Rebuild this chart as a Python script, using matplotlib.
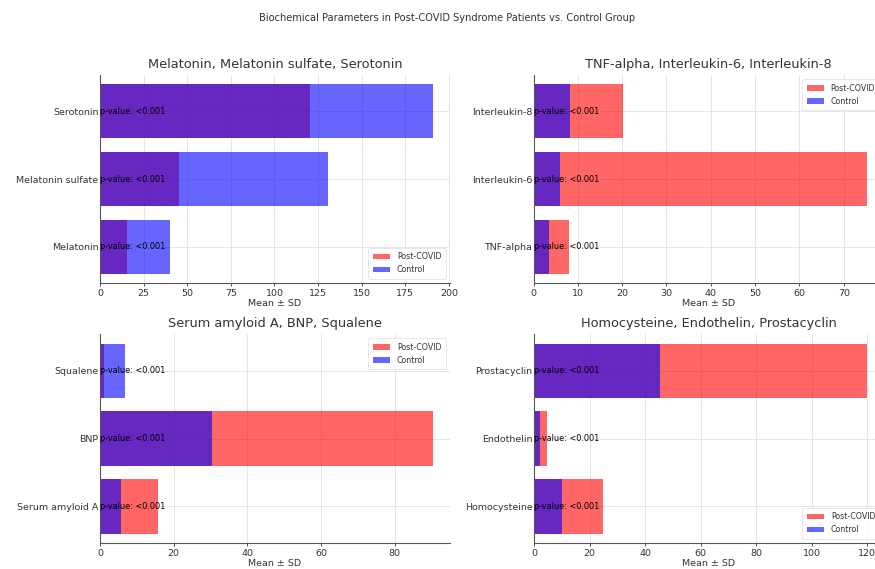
import numpy as np
import matplotlib
matplotlib.use("Agg")
import matplotlib.pyplot as plt

# ---------- data (means read per marker) ----------
panel_titles = [
    "Melatonin, Melatonin sulfate, Serotonin",
    "TNF-alpha, Interleukin-6, Interleukin-8",
    "Serum amyloid A, BNP, Squalene",
    "Homocysteine, Endothelin, Prostacyclin",
]
markers = [
    ["Melatonin", "Melatonin sulfate", "Serotonin"],
    ["TNF-alpha", "Interleukin-6", "Interleukin-8"],
    ["Serum amyloid A", "BNP", "Squalene"],
    ["Homocysteine", "Endothelin", "Prostacyclin"],
]
post_covid = [
    [15.3, 45.4, 120.6],
    [8.1, 75.2, 20.2],
    [15.8, 90.5, 1.1],
    [24.9, 4.7, 120.1],
]
control = [
    [40.2, 130.8, 191.1],
    [3.4, 6.0, 8.3],
    [5.6, 30.3, 6.8],
    [10.2, 2.0, 45.4],
]
p_values = [
    ["<0.001", "<0.001", "<0.001"],
    ["<0.001", "<0.001", "<0.001"],
    ["<0.001", "<0.001", "<0.001"],
    ["<0.001", "<0.001", "<0.001"],
]
legend_locs = ["lower right", "upper right", "upper right", "lower right"]

plt.rcParams["font.family"] = ["DejaVu Sans"]
plt.rcParams["text.color"] = "#333333"
plt.rcParams["axes.labelcolor"] = "#333333"
plt.rcParams["xtick.color"] = "#333333"
plt.rcParams["ytick.color"] = "#333333"

W, H = 875, 569
fig = plt.figure(figsize=(W / 100, H / 100), dpi=100)

# axes boxes in pixels: left, top, width, height (right column runs past the edge)
boxes = [(100, 75, 350, 208), (533.5, 75, 350, 208),
         (100, 334, 350, 209), (534, 334, 350, 209)]

for k, (l, t, w, h) in enumerate(boxes):
    ax = fig.add_axes([l / W, 1 - (t + h) / H, w / W, h / H])
    y = np.arange(len(markers[k]))
    ax.barh(y, post_covid[k], height=0.8, color="red", alpha=0.6, label="Post-COVID")
    ax.barh(y, control[k], height=0.8, color="blue", alpha=0.6, label="Control")
    for i, p in enumerate(p_values[k]):
        ax.text(0, y[i], f"p-value: {p}", ha="left", va="center", fontsize=5.9, color="black")
    ax.set_yticks(y)
    ax.set_yticklabels(markers[k], fontsize=6.8)
    ax.tick_params(axis="x", labelsize=6.8, length=2, width=0.6, pad=2)
    ax.tick_params(axis="y", length=0, pad=1)
    ax.set_xlabel("Mean ± SD", fontsize=6.8, labelpad=1)
    ax.set_title(panel_titles[k], fontsize=9.3, pad=5)
    ax.grid(True, color="#e6e6e6", linewidth=0.7)
    ax.set_axisbelow(True)
    for s in ["top", "right"]:
        ax.spines[s].set_visible(False)
    for s in ["left", "bottom"]:
        ax.spines[s].set_color("#555555")
        ax.spines[s].set_linewidth(0.8)
    ax.margins(x=0.05)
    ax.set_xlim(left=0)
    leg = ax.legend(loc=legend_locs[k], fontsize=5.7, frameon=True, handlelength=2.2,
                    borderpad=0.6, labelspacing=0.5)
    leg.get_frame().set_edgecolor("#dddddd")
    leg.get_frame().set_linewidth(0.6)

fig.suptitle("Biochemical Parameters in Post-COVID Syndrome Patients vs. Control Group",
             fontsize=7.1, x=0.511, y=1 - 18 / H, va="center")

fig.savefig("out.png", dpi=100)
